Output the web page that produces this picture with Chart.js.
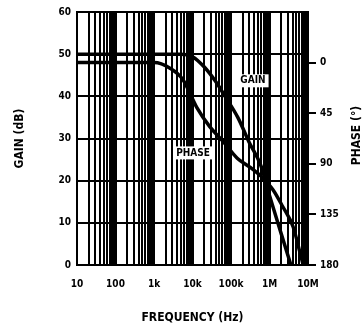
<!DOCTYPE html>
<html><head><meta charset="utf-8">
<script src="https://cdn.jsdelivr.net/npm/chart.js@4/dist/chart.umd.min.js"></script>
<style>html,body{margin:0;padding:0;background:#fff;}#wrap{width:364px;height:329px;}</style>
</head><body><div id="wrap"><canvas id="c" width="364" height="329"></canvas></div>
<script>
// ---- data ----
const xTickValues = [10, 100, 1000, 10000, 100000, 1000000, 10000000];
const xTickLabels = ['10', '100', '1k', '10k', '100k', '1M', '10M'];
const gainTicks = [0, 10, 20, 30, 40, 50, 60];
const phaseTicks = [0, 45, 90, 135, 180];
const phaseTickLabels = ['0', '45', '90', '135', '180'];

const gainFreq = [10, 1000, 5000, 10000, 20000, 40000, 70000, 150000, 300000, 600000, 1000000, 2000000, 3600000];
const gainDb   = [50, 50, 50, 49.4, 47, 43.5, 40, 35, 29, 23.5, 16.5, 7.5, 0];

const phaseFreq = [10, 1000, 2600, 5600, 13000, 28000, 62000, 145000, 310000, 640000, 1230000, 2200000, 4100000, 6200000, 7500000];
const phaseDeg  = [0, 0, 5, 15, 40, 57, 70, 85, 93, 102, 113, 128, 146, 169, 180];

const seriesNames = ['GAIN', 'PHASE'];
const labelAnchors = [ {x: 372000, y: 43.8}, {x: 10300, y: 26.7} ];

const FONT = "'DejaVu Sans Condensed', 'DejaVu Sans', sans-serif";

const gainPts = gainFreq.map((f, i) => ({x: f, y: gainDb[i]}));
const phasePts = phaseFreq.map((f, i) => ({x: f, y: phaseDeg[i]}));

const extras = {
  id: 'extras',
  afterDatasetsDraw(chart) {
    const ctx = chart.ctx, xs = chart.scales.x, ys = chart.scales.y;
    ctx.save();
    ctx.font = 'bold 10px ' + FONT;
    ctx.textAlign = 'center';
    ctx.textBaseline = 'middle';
    seriesNames.forEach((name, i) => {
      const px = xs.getPixelForValue(labelAnchors[i].x);
      const py = ys.getPixelForValue(labelAnchors[i].y);
      const w = ctx.measureText(name).width + 6;
      ctx.fillStyle = '#fff';
      ctx.fillRect(px - w / 2, py - 6, w, 13);
      ctx.fillStyle = '#000';
      ctx.fillText(name, px, py + 0.5);
    });
    // right axis title, reading bottom-to-top
    const ca = chart.chartArea;
    ctx.font = 'bold 12px ' + FONT;
    ctx.translate(chart.width - 7, (ca.top + ca.bottom) / 2 - 3);
    ctx.rotate(-Math.PI / 2);
    ctx.fillText('PHASE (°)', 0, 0);
    ctx.restore();
  }
};

new Chart(document.getElementById('c'), {
  type: 'line',
  data: {
    datasets: [
      { label: 'GAIN', data: gainPts, yAxisID: 'y', borderColor: '#000', borderWidth: 3.5,
        pointRadius: 0, cubicInterpolationMode: 'monotone', fill: false },
      { label: 'PHASE', data: phasePts, yAxisID: 'y2', borderColor: '#000', borderWidth: 3.5,
        pointRadius: 0, cubicInterpolationMode: 'monotone', fill: false }
    ]
  },
  options: {
    responsive: false,
    animation: false,
    devicePixelRatio: 1,
    layout: { padding: { top: 11, left: 0, right: 0, bottom: 0 } },
    plugins: { legend: { display: false }, tooltip: { enabled: false } },
    scales: {
      x: {
        type: 'logarithmic', min: 10, max: 10000000,
        afterBuildTicks(scale) {
          const t = [];
          for (let d = 1; d <= 7; d++) {
            for (let m = 1; m <= 9; m++) {
              const v = m * Math.pow(10, d);
              if (v <= 10000000) t.push({ value: v });
            }
          }
          scale.ticks = t;
        },
        afterFit(scale) { scale.height = 64; },
        grid: { color: '#000', lineWidth: 2, drawTicks: false },
        border: { color: '#000', width: 2 },
        ticks: {
          autoSkip: false, maxRotation: 0, padding: 13, color: '#000',
          font: { family: FONT, size: 10, weight: 'bold' },
          callback(value) { const i = xTickValues.indexOf(value); return i >= 0 ? xTickLabels[i] : ''; }
        },
        title: { display: true, text: 'FREQUENCY (Hz)', color: '#000',
          font: { family: FONT, size: 12, weight: 'bold' }, padding: { top: 0, bottom: 4 } }
      },
      y: {
        type: 'linear', position: 'left', min: 0, max: 60,
        afterBuildTicks(scale) { scale.ticks = gainTicks.map(v => ({ value: v })); },
        afterFit(scale) { scale.width = 77; },
        grid: { color: '#000', lineWidth: 2, drawTicks: false },
        border: { color: '#000', width: 2 },
        ticks: { padding: 6, color: '#000', font: { family: FONT, size: 10, weight: 'bold' } },
        title: { display: true, text: 'GAIN (dB)', color: '#000',
          font: { family: FONT, size: 12, weight: 'bold' }, padding: { top: 13, bottom: 0 } }
      },
      y2: {
        type: 'linear', position: 'right', min: -45, max: 180, reverse: true,
        afterBuildTicks(scale) { scale.ticks = phaseTicks.map(v => ({ value: v })); },
        afterFit(scale) { scale.width = 56; },
        grid: { drawOnChartArea: false, drawTicks: true, tickLength: 8, color: '#000', lineWidth: 2 },
        border: { color: '#000', width: 2 },
        ticks: { padding: 4, color: '#000', font: { family: FONT, size: 10, weight: 'bold' },
          callback(value) { const i = phaseTicks.indexOf(value); return i >= 0 ? phaseTickLabels[i] : ''; } }
      }
    }
  },
  plugins: [extras]
});
</script></body></html>
